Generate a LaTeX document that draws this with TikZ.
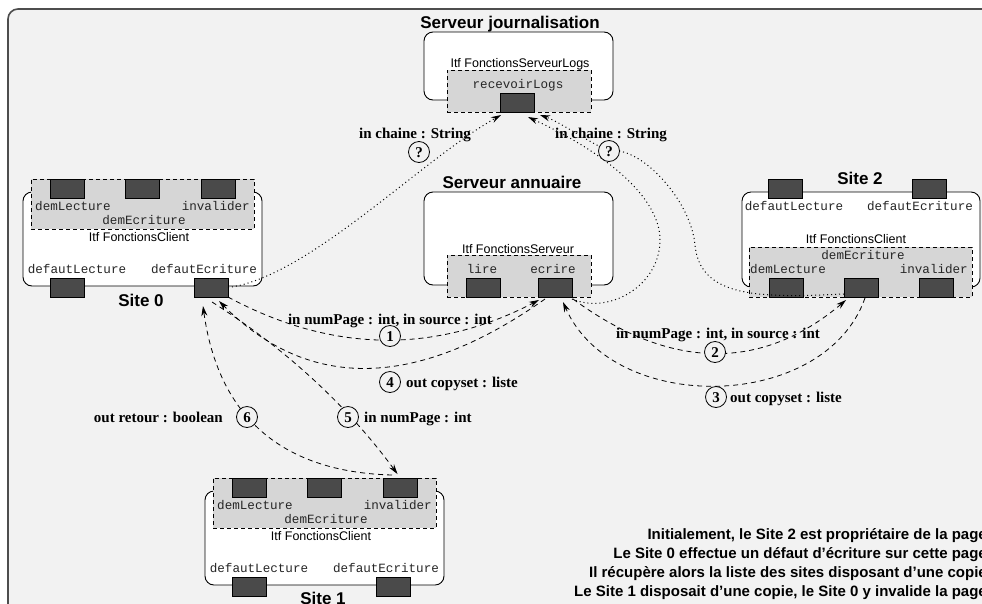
\documentclass[tikz,border=0pt]{standalone}
\usepackage{fontspec}
\setmainfont{Liberation Serif}
\setsansfont{Liberation Sans}
\setmonofont{Liberation Mono}
\usetikzlibrary{arrows.meta}

\definecolor{paper}{HTML}{F2F2F2}
\definecolor{itfgray}{HTML}{D6D6D6}
\definecolor{portgray}{HTML}{4A4A4A}
\definecolor{framegray}{HTML}{4D4D4D}

\tikzset{
  frame/.style={draw=framegray, line width=1.6pt, fill=paper, rounded corners=10pt},
  compbox/.style={draw, fill=white, rounded corners=9pt, line width=0.9pt,
    inner sep=0pt, outer sep=0pt, anchor=north west},
  itfbox/.style={draw, fill=itfgray, dash pattern=on 4pt off 3pt, line width=0.9pt,
    inner sep=0pt, outer sep=0pt, anchor=north west},
  port/.style={draw, fill=portgray, line width=0.8pt, inner sep=0pt, outer sep=0pt,
    anchor=north west, minimum width=34pt, minimum height=19pt},
  meth/.style={font=\fontsize{12.6pt}{14pt}\selectfont\ttfamily, inner sep=0pt,
    text height=7.5pt, text depth=0pt, text=black!85},
  itf/.style={font=\fontsize{12.5pt}{14pt}\selectfont\sffamily, inner sep=0pt,
    text height=9pt, text depth=0pt},
  title/.style={font=\fontsize{17pt}{19pt}\selectfont\sffamily\bfseries, inner sep=0pt,
    text height=12.2pt, text depth=0pt},
  sig/.style={font=\fontsize{15pt}{17pt}\selectfont\bfseries, inner sep=0pt,
    text height=10pt, text depth=0pt},
  stepnum/.style={circle, draw, fill=paper, line width=0.8pt, minimum size=21pt,
    inner sep=0pt, font=\fontsize{15pt}{17pt}\selectfont\bfseries,
    text height=10pt, text depth=0pt},
  note/.style={font=\fontsize{15pt}{19pt}\selectfont\sffamily\bfseries,
    inner sep=0pt, anchor=base east},
  tip/.style={-{Stealth[length=10pt,width=6pt]}},
  call/.style={tip, dash pattern=on 5pt off 4pt, line width=0.8pt},
  logcall/.style={tip, dash pattern=on 1pt off 3pt, line width=1pt},
}

\begin{document}
\begin{tikzpicture}[x=1pt,y=-1pt]
\useasboundingbox (0,0) rectangle (982,603);
\fill[white] (0,0) rectangle (982,603);
\draw[frame] (8,9) rectangle (1012,640);

% ---------- logging server ----------
\node[title] (tLog) at (510,22.5) {Serveur journalisation};
\node[compbox, minimum width=189pt, minimum height=68pt] (logsrv) at (424,32) {};
\node[itf] (iLog) at (520,63) {Itf FonctionsServeurLogs};
\node[itfbox, minimum width=144pt, minimum height=42pt] (logitf) at (447,70) {};
\node[meth] (mRecv) at (518,85) {recevoirLogs};
\node[port] (rl) at (500,93) {};

% ---------- directory server ----------
\node[title] (tDir) at (512,182) {Serveur annuaire};
\node[compbox, minimum width=189pt, minimum height=93pt] (dirsrv) at (424,192) {};
\node[itf] (iDir) at (518,249) {Itf FonctionsServeur};
\node[itfbox, minimum width=144pt, minimum height=42pt] (diritf) at (447,255) {};
\node[meth] (mLire) at (482,270) {lire};
\node[meth] (mEcr) at (553,270) {ecrire};
\node[port] (lire) at (466,278) {};
\node[port] (ecrire) at (538,278) {};

% ---------- Site 0 ----------
\node[compbox, minimum width=239pt, minimum height=94pt] (site0) at (23,192) {};
\node[itfbox, minimum width=223pt, minimum height=50pt] (s0itf) at (31,179) {};
\node[port] (s0dL) at (50,179) {};
\node[port] (s0dE) at (125,179) {};
\node[port] (s0inv) at (201,179) {};
\node[meth, anchor=west] (s0mL) at (35,207) {demLecture};
\node[meth, anchor=east] (s0mI) at (250,207) {invalider};
\node[meth] (s0mE) at (144,221) {demEcriture};
\node[itf] (s0i) at (139,237) {Itf FonctionsClient};
\node[meth] (s0fL) at (77,270) {defautLecture};
\node[meth] (s0fE) at (204,270) {defautEcriture};
\node[port] (s0pL) at (50,278) {};
\node[port] (s0pE) at (194,278) {};
\node[title] (s0t) at (141,300) {Site 0};

% ---------- Site 1 ----------
\node[compbox, minimum width=239pt, minimum height=94pt] (site1) at (205,491) {};
\node[itfbox, minimum width=223pt, minimum height=50pt] (s1itf) at (213,478) {};
\node[port] (s1dL) at (232,478) {};
\node[port] (s1dE) at (307,478) {};
\node[port] (s1inv) at (383,478) {};
\node[meth, anchor=west] (s1mL) at (217,506) {demLecture};
\node[meth, anchor=east] (s1mI) at (432,506) {invalider};
\node[meth] (s1mE) at (326,520) {demEcriture};
\node[itf] (s1i) at (321,536) {Itf FonctionsClient};
\node[meth] (s1fL) at (259,569) {defautLecture};
\node[meth] (s1fE) at (386,569) {defautEcriture};
\node[port] (s1pL) at (232,577) {};
\node[port] (s1pE) at (376,577) {};
\node[title] (s1t) at (323,598) {Site 1};

% ---------- Site 2 ----------
\node[title] (s2t) at (860,178.5) {Site 2};
\node[compbox, minimum width=238pt, minimum height=95pt] (site2) at (742,192) {};
\node[port] (s2pL) at (768,179) {};
\node[port] (s2pE) at (912,179) {};
\node[meth] (s2fL) at (794,207) {defautLecture};
\node[meth] (s2fE) at (920,207) {defautEcriture};
\node[itf] (s2i) at (856,239) {Itf FonctionsClient};
\node[itfbox, minimum width=223pt, minimum height=50pt] (s2itf) at (749,247) {};
\node[meth] (s2mE) at (863,256) {demEcriture};
\node[meth, anchor=west] (s2mL) at (750,270) {demLecture};
\node[meth, anchor=east] (s2mI) at (968,270) {invalider};
\node[port] (p2a) at (769,278) {};
\node[port] (p2b) at (844,278) {};
\node[port] (p2c) at (919,278) {};

% ---------- waypoints ----------
\coordinate (q1pos) at (419,152);
\coordinate (q2pos) at (609,151);
\coordinate (bendA) at (695,245);
\coordinate (bendB) at (660,240);

% ---------- log messages (dotted) ----------
\draw[logcall] (s0pE.east) .. controls +(80,-10) and +(-80,45) .. ([shift={(1,3)}]rl.south west);
\draw[logcall] ([shift={(0,-3)}]p2b.south west) .. controls +(-84,4) and +(5,53) .. (bendA)
  .. controls +(-4,-45) and +(31,-6) .. (q2pos)
  .. controls +(-19,-8) and +(20,7) .. ([shift={(6,3)}]rl.south east);
\draw[logcall] ([shift={(0,2)}]ecrire.south east) .. controls +(38,16) and +(0,45) .. (bendB)
  .. controls +(0,-45) and +(72,33) .. ([shift={(-6,5)}]rl.south east);

% ---------- calls (dashed) ----------
\draw[call] (s0pE.south east) .. controls +(104,56) and +(-104,54) .. ([shift={(1,3)}]ecrire.south west);
\draw[call] ([shift={(7,2)}]ecrire.south west) .. controls +(-129,91) and +(89,90) .. ([shift={(-9,4)}]s0pE.south east);
\draw[call] ([shift={(-16,5)}]s0pE.south east) .. controls +(74,47) and +(-50,-68) .. ([shift={(-2.5,-4)}]s1inv.north);
\draw[call] ([shift={(-8,-3)}]s1inv.north) .. controls +(-112,-3) and +(15,109) .. ([shift={(-25,9)}]s0pE.south east);
\draw[call] ([shift={(1,2)}]ecrire.south east) .. controls +(98,72) and +(-84,71) .. ([shift={(2,3)}]p2b.south west);
\draw[call] ([shift={(4,1)}]p2b.south) .. controls +(-40,114) and +(50,114) .. ([shift={(-9,5)}]ecrire.south east);

% ---------- step markers ----------
\node[stepnum] (q1) at (q1pos) {?};
\node[stepnum] (q2) at (q2pos) {?};
\node[stepnum] (n1) at (390,336) {1};
\node[stepnum] (n2) at (715,352) {2};
\node[stepnum] (n3) at (716,397) {3};
\node[stepnum] (n4) at (390,382) {4};
\node[stepnum] (n5) at (348,417) {5};
\node[stepnum] (n6) at (247,417) {6};

% ---------- signatures ----------
\node[sig] (lChain0) at (415,133) {in chaine : String};
\node[sig] (lChain2) at (611,133) {in chaine : String};
\node[sig] (lReq1) at (390,319) {in numPage : int, in source : int};
\node[sig] (lReq2) at (718,333) {in numPage : int, in source : int};
\node[sig, anchor=west] (lCopy4) at (406,382) {out copyset : liste};
\node[sig, anchor=west] (lCopy3) at (730,397) {out copyset : liste};
\node[sig, anchor=west] (lInv) at (364,417) {in numPage : int};
\node[sig, anchor=east] (lRet) at (223,417) {out retour : boolean};

% ---------- scenario ----------
\node[note] (note1) at (987,539.5) {Initialement, le Site 2 est propriétaire de la page};
\node[note] (note2) at (987,558.5) {Le Site 0 effectue un défaut d’écriture sur cette page};
\node[note] (note3) at (987,577.5) {Il récupère alors la liste des sites disposant d’une copie};
\node[note] (note4) at (987,596.5) {Le Site 1 disposait d’une copie, le Site 0 y invalide la page};
\end{tikzpicture}
\end{document}
